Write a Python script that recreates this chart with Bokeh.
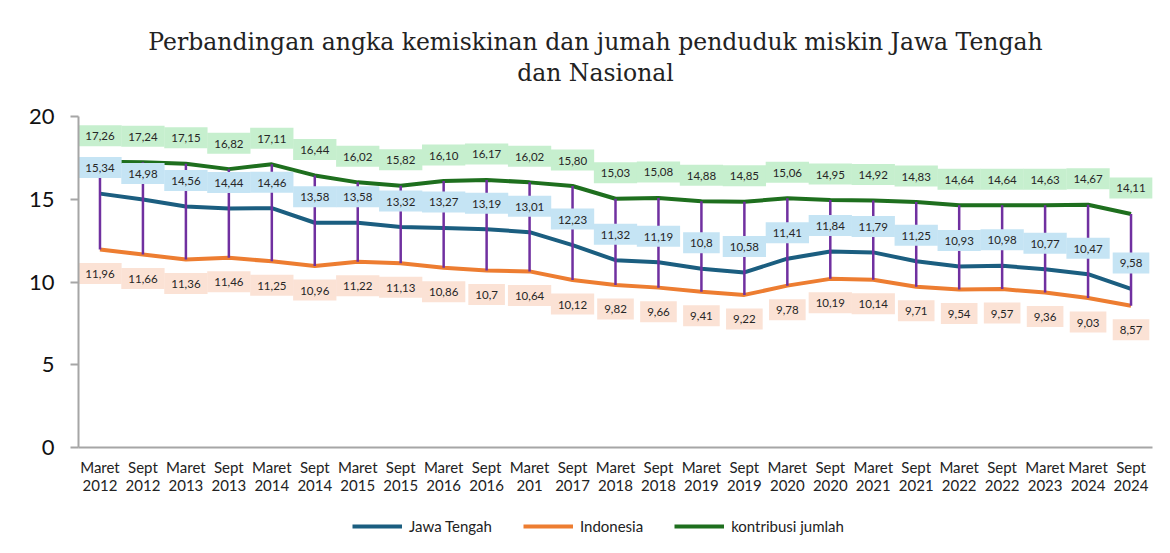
from bokeh.plotting import figure
from bokeh.layouts import column
from bokeh.models import (ColumnDataSource, FactorRange, Range1d, Legend, LegendItem,
                          Label, FixedTicker)
from bokeh.core.properties import value
from bokeh.embed import file_html
from bokeh.resources import INLINE

# ---- data ----
periods = ["Maret\n2012", "Sept\n2012", "Maret\n2013", "Sept\n2013", "Maret\n2014",
           "Sept\n2014", "Maret\n2015", "Sept\n2015", "Maret\n2016", "Sept\n2016",
           "Maret\n201", "Sept\n2017", "Maret\n2018", "Sept\n2018", "Maret\n2019",
           "Sept\n2019", "Maret\n2020", "Sept\n2020", "Maret\n2021", "Sept\n2021",
           "Maret\n2022", "Sept\n2022", "Maret\n2023", "Maret\n2024", "Sept\n2024"]

jawa_tengah = [15.34, 14.98, 14.56, 14.44, 14.46, 13.58, 13.58, 13.32, 13.27, 13.19,
               13.01, 12.23, 11.32, 11.19, 10.8, 10.58, 11.41, 11.84, 11.79, 11.25,
               10.93, 10.98, 10.77, 10.47, 9.58]

indonesia = [11.96, 11.66, 11.36, 11.46, 11.25, 10.96, 11.22, 11.13, 10.86, 10.7,
             10.64, 10.12, 9.82, 9.66, 9.41, 9.22, 9.78, 10.19, 10.14, 9.71,
             9.54, 9.57, 9.36, 9.03, 8.57]

kontribusi = [17.26, 17.24, 17.15, 16.82, 17.11, 16.44, 16.02, 15.82, 16.10, 16.17,
              16.02, 15.80, 15.03, 15.08, 14.88, 14.85, 15.06, 14.95, 14.92, 14.83,
              14.64, 14.64, 14.63, 14.67, 14.11]

y_ticks = [0, 5, 10, 15, 20]

series_names = ["Jawa Tengah", "Indonesia", "kontribusi jumlah"]

title_text = ("Perbandingan angka kemiskinan dan jumah penduduk miskin Jawa Tengah\n"
              "dan Nasional")

# ---- derived ----
def fmt(v, two=False):
    s = f"{v:.2f}" if two else repr(v)
    return s.replace(".", ",")

hi = [max(a, b, c) for a, b, c in zip(jawa_tengah, indonesia, kontribusi)]
lo = [min(a, b, c) for a, b, c in zip(jawa_tengah, indonesia, kontribusi)]

src = ColumnDataSource(dict(
    cat=periods, jt=jawa_tengah, ind=indonesia, kj=kontribusi, hi=hi, lo=lo,
    jt_lbl=[fmt(v) for v in jawa_tengah],
    ind_lbl=[fmt(v) for v in indonesia],
    kj_lbl=[fmt(v, True) for v in kontribusi],
))

FONT = "Lato"
C_JT = "#1b5e80"
C_IND = "#ed7d31"
C_KJ = "#1e6f1e"
C_HL = "#7030a0"
W = 1168
BL, BR = 78, 16


def strip(height):
    f = figure(width=W, height=height, output_backend="svg", toolbar_location=None,
               x_range=FactorRange(*periods), y_range=Range1d(100, 101),
               min_border_left=BL, min_border_right=BR, min_border_top=0,
               min_border_bottom=0)
    f.title = None
    f.outline_line_color = None
    f.axis.visible = False
    f.grid.visible = False
    return f


# ---- title strip ----
tf = strip(100)
tf.add_layout(Label(x=517, y=43, x_units="screen", y_units="screen",
                    text=title_text, text_align="center", text_baseline="middle",
                    text_font="DejaVu Serif", text_font_size="23.5px",
                    text_color="#222222", text_line_height=1.1))

# ---- main chart ----
p = figure(x_range=FactorRange(*periods), y_range=Range1d(0, 20),
           width=W, height=405, output_backend="svg", toolbar_location=None,
           min_border_left=BL, min_border_right=BR, min_border_top=16,
           min_border_bottom=58)
p.title = None
p.outline_line_color = None
p.background_fill_color = "white"
p.border_fill_color = "white"
p.xgrid.grid_line_color = None
p.ygrid.grid_line_color = None

r_jt = p.line("cat", "jt", source=src, line_color=C_JT, line_width=4)
r_ind = p.line("cat", "ind", source=src, line_color=C_IND, line_width=4)
r_kj = p.line("cat", "kj", source=src, line_color=C_KJ, line_width=4)

p.segment(x0="cat", y0="hi", x1="cat", y1="lo", source=src,
          line_color=C_HL, line_width=2.5)

common = dict(source=src, text_align="center", text_baseline="middle",
              text_font=value(FONT), text_font_size="11.5px", text_color="#262626",
              padding=dict(left=7, right=7, top=7, bottom=6))
p.text(x="cat", y="kj", text="kj_lbl", y_offset=-26,
       background_fill_color="#c6efce", **common)
p.text(x="cat", y="jt", text="jt_lbl", y_offset=-26,
       background_fill_color="#c5e4f4", **common)
p.text(x="cat", y="ind", text="ind_lbl", y_offset=24,
       background_fill_color="#fbe2d5", **common)

p.yaxis.ticker = FixedTicker(ticks=y_ticks)
p.yaxis.minor_tick_line_color = None
p.yaxis.major_tick_in = 0
p.yaxis.major_tick_out = 8
p.yaxis.major_tick_line_color = "#a6a6a6"
p.yaxis.axis_line_color = "#a6a6a6"
p.yaxis.axis_line_width = 2
p.yaxis.major_tick_line_width = 2
p.yaxis.major_label_text_font = FONT
p.yaxis.major_label_text_font_size = "22px"
p.yaxis.major_label_text_color = "#111111"
p.yaxis.major_label_standoff = 16

p.xaxis.axis_line_color = "#a6a6a6"
p.xaxis.axis_line_width = 2
p.xaxis.major_tick_line_color = None
p.xaxis.minor_tick_line_color = None
p.xaxis.major_label_text_font = FONT
p.xaxis.major_label_text_font_size = "15px"
p.xaxis.major_label_text_color = "#222222"
p.xaxis.major_label_text_line_height = 1.0
p.xaxis.major_label_standoff = 4
p.xaxis.major_label_orientation = "horizontal"

# ---- legend strip (series drawn off-range, only their legend glyphs show) ----
lg = strip(47)
g1 = lg.line("cat", "jt", source=src, line_color=C_JT, line_width=4)
g2 = lg.line("cat", "ind", source=src, line_color=C_IND, line_width=4)
g3 = lg.line("cat", "kj", source=src, line_color=C_KJ, line_width=4)
legend = Legend(items=[LegendItem(label=series_names[0], renderers=[g1]),
                       LegendItem(label=series_names[1], renderers=[g2]),
                       LegendItem(label=series_names[2], renderers=[g3])],
                orientation="horizontal", location=(274, 17),
                border_line_color=None, background_fill_alpha=0,
                label_text_font=FONT, label_text_font_size="15px",
                label_text_color="#222222", glyph_width=50, glyph_height=16,
                spacing=31, label_standoff=7, margin=0, padding=2)
lg.add_layout(legend, "center")

open("out.html", "w").write(file_html(column(tf, p, lg, spacing=0), INLINE))
